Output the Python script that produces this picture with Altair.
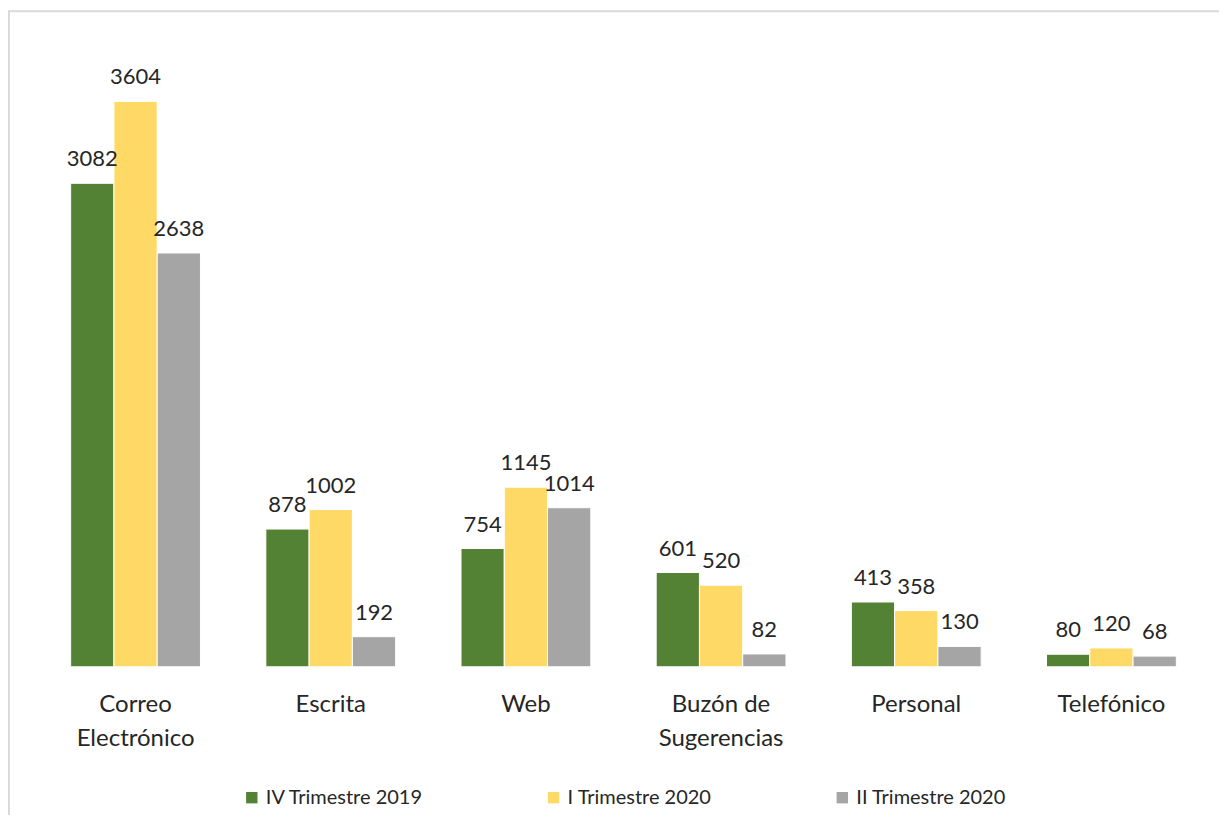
import altair as alt
import pandas as pd

categories = ["Correo\nElectrónico", "Escrita", "Web", "Buzón de\nSugerencias", "Personal", "Telefónico"]
series = ["IV Trimestre 2019", "I Trimestre 2020", "II Trimestre 2020"]
colors = ["#548235", "#FFD966", "#A5A5A5"]
iv_2019 = [3082, 878, 754, 601, 413, 80]
i_2020 = [3604, 1002, 1145, 520, 358, 120]
ii_2020 = [2638, 192, 1014, 82, 130, 68]

rows = []
for s, vals in zip(series, [iv_2019, i_2020, ii_2020]):
    for c, v in zip(categories, vals):
        rows.append({"cat": c, "serie": s, "valor": v})
df = pd.DataFrame(rows)

FONT = "Lato"
PAD_L, PAD_T = 30, 31
W, H = 1172, 628

x = alt.X("cat:N", sort=categories,
          scale=alt.Scale(paddingInner=0.335, paddingOuter=0.1675),
          axis=alt.Axis(title=None, domain=False, ticks=False, labelAngle=0,
                        labelFontSize=24, labelFont=FONT, labelColor="#262626",
                        labelPadding=26, labelLineHeight=34, labelBaseline="top",
                        labelExpr="split(datum.label, '\\n')"))
y = alt.Y("valor:Q", scale=alt.Scale(domain=[0, 4000], nice=False),
          axis=None)
xo = alt.XOffset("serie:N", sort=series, scale=alt.Scale(paddingInner=0, paddingOuter=0))

base = alt.Chart(df)

bars = base.mark_bar(stroke="white", strokeWidth=1).encode(
    x=x, y=y, xOffset=xo,
    color=alt.Color("serie:N", sort=series,
                    scale=alt.Scale(domain=series, range=colors),
                    legend=alt.Legend(title=None, orient="none", direction="horizontal",
                                      legendX=204, legendY=749, columns=3,
                                      symbolType="square", symbolSize=130,
                                      symbolStrokeWidth=0, labelFont=FONT,
                                      labelFontSize=20, labelColor="#262626",
                                      labelOffset=4, columnPadding=120,
                                      labelLimit=300))
)

labels = base.mark_text(baseline="alphabetic", dy=-17, fontSize=22, font=FONT,
                        color="#262626").encode(
    x=x, y=y, xOffset=xo, text=alt.Text("valor:Q", format="d")
)

border_left = alt.Chart(pd.DataFrame({"a": [0]})).mark_rule(color="#D9D9D9", strokeWidth=2).encode(
    x=alt.value(-PAD_L + 1), y=alt.value(-PAD_T + 2), y2=alt.value(H + 150)
)
border_top = alt.Chart(pd.DataFrame({"a": [0]})).mark_rule(color="#D9D9D9", strokeWidth=2).encode(
    y=alt.value(-PAD_T + 3), x=alt.value(-PAD_L + 1), x2=alt.value(W + 200)
)

chart = alt.layer(border_left, border_top, bars, labels).properties(
    width=W, height=H,
    autosize=alt.AutoSizeParams(type="none"),
    padding={"left": PAD_L, "top": PAD_T, "right": 10, "bottom": 148},
).configure(background="white", view=alt.ViewConfig(stroke=None, strokeWidth=0))

chart.save("out.html", embed_options={"renderer": "svg", "actions": False})
